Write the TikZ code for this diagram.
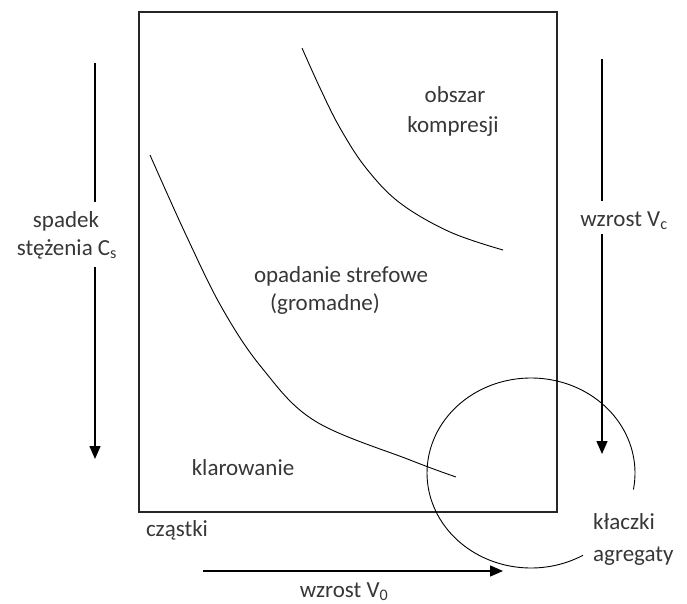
\documentclass[tikz,border=0pt]{standalone}
\usepackage{fontspec}
\setmainfont{Carlito}
\usetikzlibrary{arrows.meta}
\definecolor{txt}{RGB}{55,55,55}
\begin{document}
\begin{tikzpicture}[x=1pt,y=-1pt,
  lbl/.style={font=\fontsize{23}{28}\selectfont, text=txt, inner sep=0pt},
  frame/.style={line width=1.6pt, draw=black!85},
  arr/.style={line width=1.4pt, -{Triangle[length=13pt,width=11pt]}},
  plain/.style={line width=1.4pt},
  curve/.style={line width=0.9pt},
  ring/.style={line width=0.9pt}]
\useasboundingbox (0,0) rectangle (687,604);
% frame
\draw[frame] (139,12) rectangle (557,512);
% texts
\node[lbl, anchor=base] (spadek) at (66,227) {spadek};
\node[lbl, anchor=base] (stez) at (67,255) {stężenia C\textsubscript{s}};
\node[lbl, anchor=base] (vc) at (624,226) {wzrost V\textsubscript{c}};
\node[lbl, anchor=base] (obszar) at (455,103) {obszar};
\node[lbl, anchor=base] (kompr) at (453,133) {kompresji};
\node[lbl, anchor=base] (opad) at (341,282) {opadanie strefowe};
\node[lbl, anchor=base] (grom) at (325,310) {(gromadne)};
\node[lbl, anchor=base] (klar) at (243,475) {klarowanie};
\node[lbl, anchor=base] (czastki) at (177,536) {cząstki};
\node[lbl, anchor=base west] (klaczki) at (593,529) {kłaczki};
\node[lbl, anchor=base west] (agreg) at (593,561) {agregaty};
\node[lbl, anchor=base] (v0) at (344,597) {wzrost V\textsubscript{0}};
% arrow coordinates
\coordinate (la1) at (95,63);
\coordinate (la2) at (95,202);
\coordinate (la3) at (95,267);
\coordinate (la4) at (95,459);
\coordinate (ra1) at (602,59);
\coordinate (ra2) at (602,201);
\coordinate (ra3) at (602,234);
\coordinate (ra4) at (602,454);
\coordinate (ba1) at (203,571);
\coordinate (ba2) at (503,571);
\draw[plain] (la1) -- (la2);
\draw[arr] (la3) -- (la4);
\draw[plain] (ra1) -- (ra2);
\draw[arr] (ra3) -- (ra4);
\draw[arr] (ba1) -- (ba2);
% curves
\draw[curve] plot[smooth, tension=0.6] coordinates {(302,48) (320,88) (340,128) (366,168) (400,203) (450,232) (503,250)};
\draw[curve] plot[smooth, tension=0.6] coordinates {(150,155) (186,235) (222,308) (262,368) (315,421) (410,460) (456,477)};
% ring
\draw[ring] plot[domain=60:370, samples=120, smooth] ({531+104*cos(\x)},{473+95*sin(\x)});
\end{tikzpicture}
\end{document}
